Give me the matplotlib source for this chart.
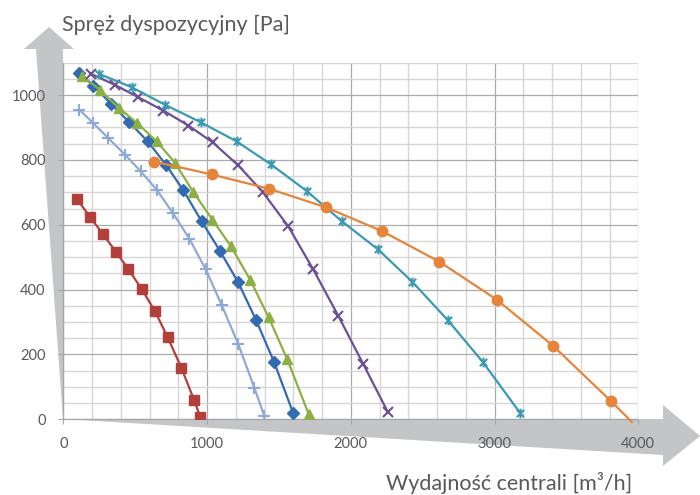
import matplotlib.pyplot as plt
from matplotlib.patches import Polygon
from matplotlib.path import Path
from matplotlib.ticker import MultipleLocator

plt.rcParams['font.family'] = ['Lato', 'DejaVu Sans']

# wartości: wydajność [m3/h], spręż [Pa]
blue_x = [111, 209, 332, 459, 587, 714, 835, 963, 1090, 1217, 1341, 1466, 1600]
blue_y = [1067, 1029, 973, 916, 857, 785, 706, 610, 519, 422, 306, 177, 18]

red_x = [97, 186, 274, 367, 452, 545, 638, 726, 821, 911, 953]
red_y = [678, 624, 572, 516, 463, 402, 333, 253, 159, 58, 7]

green_x = [128, 255, 387, 515, 650, 777, 904, 1037, 1167, 1299, 1429, 1558, 1707]
green_y = [1060, 1016, 960, 913, 857, 791, 701, 616, 533, 431, 314, 185, 16]

purple_x = [193, 360, 522, 696, 870, 1039, 1217, 1387, 1565, 1739, 1913, 2087, 2257]
purple_y = [1065, 1031, 993, 952, 906, 854, 783, 701, 595, 462, 319, 170, 23]

teal_x = [250, 476, 707, 956, 1206, 1445, 1693, 1937, 2189, 2428, 2674, 2918, 3177]
teal_y = [1065, 1024, 970, 916, 857, 786, 704, 611, 524, 424, 306, 177, 20]

orange_x = [631, 1032, 1431, 1825, 2219, 2616, 3015, 3409, 3810, 3954]
orange_y = [795, 755, 711, 654, 580, 486, 369, 226, 56, -8]

lblue_x = [111, 209, 313, 429, 538, 650, 761, 877, 991, 1102, 1217, 1329, 1398]
lblue_y = [955, 913, 867, 816, 765, 708, 637, 557, 462, 352, 232, 97, 11]

W, H = 700, 495
fig = plt.figure(figsize=(W / 100, H / 100), dpi=100)

def px(pts):
    # piksele obrazka -> ułamki figury
    return [(x / W, 1 - y / H) for x, y in pts]

# szare strzałki osi (pod osiami i podpisami)
grey = '#c4c5c7'
arrow_x = [(63, 419), (663, 419), (663, 405), (700, 436), (663, 466), (663, 455)]
arrow_y = [(63, 419), (63, 49), (74, 49), (49, 27), (24, 49), (36, 49)]
for pts in (arrow_x, arrow_y):
    fig.patches.append(Polygon(px(pts), closed=True, transform=fig.transFigure,
                               facecolor=grey, edgecolor='none', zorder=-1))

ax = fig.add_axes([63.3 / W, 1 - 419.3 / H, 575 / W, (419.3 - 62.6) / H])
ax.patch.set_alpha(0)
ax.set_xlim(0, 4000)
ax.set_ylim(0, 1100)

ax.xaxis.set_major_locator(MultipleLocator(1000))
ax.xaxis.set_minor_locator(MultipleLocator(200))
ax.yaxis.set_major_locator(MultipleLocator(200))
ax.yaxis.set_minor_locator(MultipleLocator(50))
ax.grid(which='major', color='#ababab', lw=0.9)
ax.grid(which='minor', color='#d6d6d6', lw=1.0)
ax.set_axisbelow(True)

for s in ('top', 'right'):
    ax.spines[s].set_visible(False)
for s in ('left', 'bottom'):
    ax.spines[s].set_color('#a6a6a6')
    ax.spines[s].set_linewidth(0.9)

ax.tick_params(which='major', length=3.6, color='#a6a6a6', labelsize=10.5,
               labelcolor='#595959', pad=9)
ax.tick_params(which='minor', length=0)

star = Path([(0, -1), (0, 1), (-0.75, -0.75), (0.75, 0.75), (-0.75, 0.75), (0.75, -0.75)],
            [Path.MOVETO, Path.LINETO, Path.MOVETO, Path.LINETO, Path.MOVETO, Path.LINETO])

lw = 1.6
ax.plot(blue_x, blue_y, color='#336bb0', lw=lw, marker='D', ms=6, zorder=3)
ax.plot(red_x, red_y, color='#b23f3a', lw=lw, marker='s', ms=6.5, zorder=3)
ax.plot(green_x, green_y, color='#8cb043', lw=lw, marker='^', ms=7.5, zorder=3)
ax.plot(purple_x, purple_y, color='#6c5096', lw=lw, marker='x', ms=6.5, mew=1.5, zorder=3)
ax.plot(teal_x, teal_y, color='#3a9ab3', lw=lw, marker=star, ms=7, mew=1.5, zorder=3)
ax.plot(orange_x, orange_y, color='#e6853a', lw=lw, marker='o', ms=7.5,
        markevery=list(range(len(orange_x) - 1)), clip_on=False, zorder=3)
ax.plot(lblue_x, lblue_y, color='#8eaad8', lw=lw, marker='+', ms=8, mew=1.5, zorder=3)

fig.text(62 / W, 1 - 31 / H, 'Spręż dyspozycyjny [Pa]', fontsize=15.5,
         color='#595959', ha='left', va='baseline')
fig.text(632 / W, 1 - 490 / H, 'Wydajność centrali [m³/h]', fontsize=15.5,
         color='#595959', ha='right', va='baseline')

fig.savefig('out.png', dpi=100)
